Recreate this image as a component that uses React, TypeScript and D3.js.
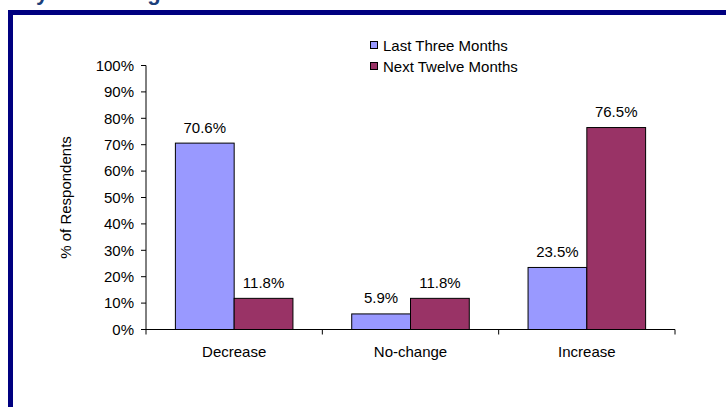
import React from "react";
import * as d3 from "d3";

const categories = ["Decrease", "No-change", "Increase"];
const seriesNames = ["Last Three Months", "Next Twelve Months"];
const lastThreeMonths = [70.6, 5.9, 23.5];
const nextTwelveMonths = [11.8, 11.8, 76.5];
const yTicks = [0, 10, 20, 30, 40, 50, 60, 70, 80, 90, 100];
const colors = ["#9999FF", "#993366"];

const W = 726;
const H = 407;
const FONT = "Arial, 'Liberation Sans', sans-serif";
const FS = 15;

export default function App() {
  const x = d3.scaleBand<string>().domain(categories).range([146, 675]).padding(0);
  const y = d3.scaleLinear().domain([0, 100]).range([329.5, 65.5]);
  const series = [lastThreeMonths, nextTwelveMonths];
  const bw = x.bandwidth() / 3;

  return (
    <div style={{ position: "absolute", left: 0, top: 0 }}>
      <svg width={W} height={H} style={{ display: "block", background: "#fff" }}>
        <text x={-36} y={-0.5} fontFamily={FONT} fontWeight="bold" fontSize={22} fill="#1c3f7a">
          Monthly Percentage
        </text>
        <rect x={8} y={10} width={W - 8} height={5} fill="#000080" />
        <rect x={8} y={10} width={5} height={H - 10} fill="#000080" />

        {/* bars */}
        {series.map((vals, si) =>
          categories.map((c, ci) => {
            const bx = (x(c) as number) + bw / 2 + si * bw;
            const by = y(vals[ci]);
            return (
              <g key={`${si}-${ci}`}>
                <rect x={bx} y={by} width={bw} height={y(0) - by} fill={colors[si]} stroke="#000" strokeWidth={1} />
                <text x={bx + bw / 2} y={by - 10.5} textAnchor="middle" fontFamily={FONT} fontSize={FS} fill="#000">
                  {vals[ci].toFixed(1)}%
                </text>
              </g>
            );
          })
        )}

        {/* y axis */}
        <line x1={146} x2={146} y1={y(100)} y2={y(0)} stroke="#000" strokeWidth={1} />
        {yTicks.map((t) => (
          <g key={t}>
            <line x1={141} x2={146} y1={y(t)} y2={y(t)} stroke="#000" strokeWidth={1} />
            <text x={134} y={y(t) + 5.3} textAnchor="end" fontFamily={FONT} fontSize={FS} fill="#000">
              {t}%
            </text>
          </g>
        ))}

        {/* x axis */}
        <line x1={146} x2={675} y1={y(0)} y2={y(0)} stroke="#000" strokeWidth={1} />
        {[...categories.map((c) => x(c) as number), 675].map((bx, i) => (
          <line key={i} x1={bx} x2={bx} y1={y(0)} y2={y(0) + 5} stroke="#000" strokeWidth={1} />
        ))}
        {categories.map((c) => (
          <text key={c} x={(x(c) as number) + x.bandwidth() / 2} y={357} textAnchor="middle" fontFamily={FONT} fontSize={FS} fill="#000">
            {c}
          </text>
        ))}

        <text
          transform={`translate(71, ${(y(0) + y(100)) / 2}) rotate(-90)`}
          textAnchor="middle"
          fontFamily={FONT}
          fontSize={FS}
          fill="#000"
        >
          % of Respondents
        </text>

        {/* legend */}
        {seriesNames.map((n, i) => (
          <g key={n} transform={`translate(370, ${41 + i * 21})`}>
            <rect x={0.5} y={0.5} width={7} height={7} fill={colors[i]} stroke="#000" strokeWidth={1} />
            <text x={13} y={9.5} fontFamily={FONT} fontSize={FS} fill="#000">
              {n}
            </text>
          </g>
        ))}
      </svg>
    </div>
  );
}
